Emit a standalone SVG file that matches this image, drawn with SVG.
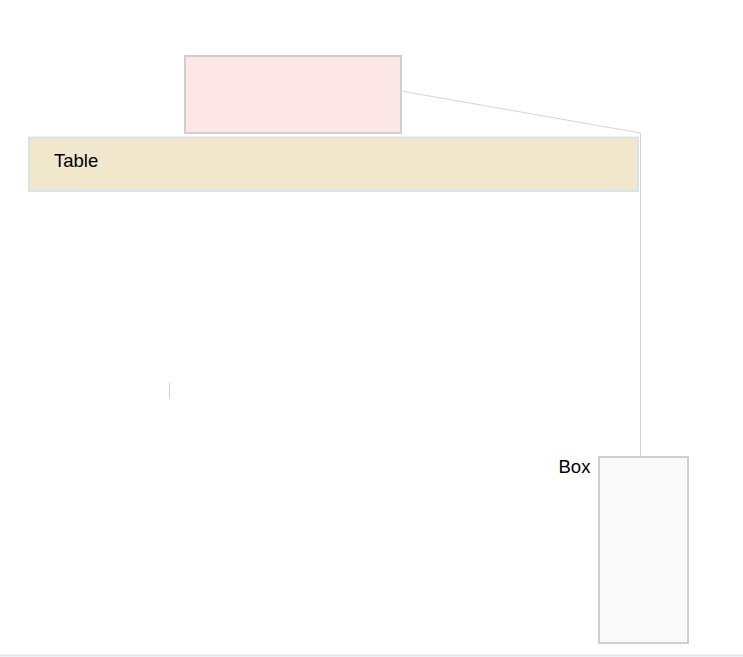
<svg xmlns="http://www.w3.org/2000/svg" width="743" height="657" viewBox="0 0 743 657">
<style>
.lbl{font-family:"Liberation Sans",Arial,sans-serif;font-size:18.5px;fill:#000}
.conn{fill:none;stroke:#d4d4d4;stroke-width:1}
</style>
<rect x="0" y="0" width="743" height="657" fill="#ffffff"/>
<g id="connectors">
<polyline class="conn" points="401,91 640.5,133 640.5,457"/>
<line class="conn" x1="169.5" y1="383" x2="169.5" y2="399" stroke="#dcdcdc"/>
</g>
<g id="node-pink">
<rect x="185" y="56" width="216" height="77" fill="#fde6e6" stroke="#cfcfcf" stroke-width="2"/>
</g>
<g id="node-table">
<rect x="29" y="137.5" width="609" height="53.5" fill="#f1e7cc" stroke="#dce1ea" stroke-width="2"/>
<text class="lbl" x="54" y="167.3">Table</text>
</g>
<g id="node-box">
<rect x="599" y="457" width="89" height="186" fill="#f9f9f9" stroke="#cfcfcf" stroke-width="2"/>
<text class="lbl" x="558.5" y="473.3">Box</text>
</g>
<line x1="0" y1="655.5" x2="743" y2="655.5" stroke="#dce6ee" stroke-width="2"/>
</svg>
